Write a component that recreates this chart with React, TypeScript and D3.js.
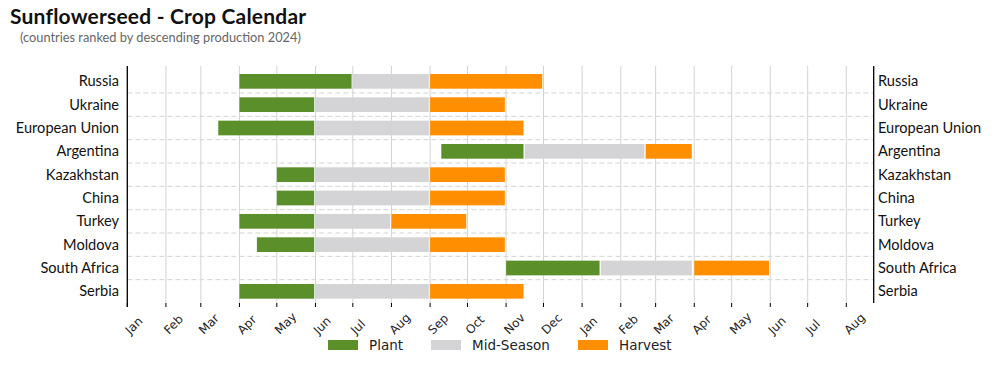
import React from 'react';
import * as d3 from 'd3';

const countries = ['Russia', 'Ukraine', 'European Union', 'Argentina', 'Kazakhstan', 'China', 'Turkey', 'Moldova', 'South Africa', 'Serbia'];

// [start, end] per country, two-year window
const plant = [
    ['2021-04-01', '2021-06-30'],
    ['2021-04-01', '2021-05-31'],
    ['2021-03-15', '2021-05-31'],
    ['2021-09-10', '2021-11-15'],
    ['2021-05-01', '2021-05-31'],
    ['2021-05-01', '2021-05-31'],
    ['2021-04-01', '2021-05-31'],
    ['2021-04-15', '2021-05-31'],
    ['2021-11-01', '2022-01-15'],
    ['2021-04-01', '2021-05-31'],
];
const midSeason = [
    ['2021-07-01', '2021-08-31'],
    ['2021-06-01', '2021-08-31'],
    ['2021-06-01', '2021-08-31'],
    ['2021-11-16', '2022-02-20'],
    ['2021-06-01', '2021-08-31'],
    ['2021-06-01', '2021-08-31'],
    ['2021-06-01', '2021-07-31'],
    ['2021-06-01', '2021-08-31'],
    ['2022-01-16', '2022-03-30'],
    ['2021-06-01', '2021-08-31'],
];
const harvest = [
    ['2021-09-01', '2021-11-30'],
    ['2021-09-01', '2021-10-31'],
    ['2021-09-01', '2021-11-15'],
    ['2022-02-21', '2022-03-30'],
    ['2021-09-01', '2021-10-31'],
    ['2021-09-01', '2021-10-31'],
    ['2021-08-01', '2021-09-30'],
    ['2021-09-01', '2021-10-31'],
    ['2022-04-01', '2022-05-31'],
    ['2021-09-01', '2021-11-15'],
];

const stages = [
    { name: 'Plant', color: '#5b8f2a', spans: plant },
    { name: 'Mid-Season', color: '#d4d3d5', spans: midSeason },
    { name: 'Harvest', color: '#ff8f00', spans: harvest },
];

const W = 994;
const H = 368;
const left = 127.3;
const right = 873.7;
const top = 66;
const bottom = 303;

const App = () => {
    const start = new Date(Date.UTC(2021, 0, 1));
    const end = new Date(start.getTime() + 599 * 864e5);
    const x = d3.scaleUtc().domain([start, end]).range([left, right]);
    const y = d3.scaleBand().domain(countries).range([69.67, bottom]).paddingInner(0.37).paddingOuter(0.185);
    const months = d3.utcMonth.range(start, end);
    const fmt = d3.utcFormat('%b');
    const parse = (s) => new Date(s + 'T00:00:00Z');
    const step = y.step();

    const labelFont = 'Lato, "Open Sans", sans-serif';

    return (
        <svg width={W} height={H} style={{ position: 'absolute', left: 0, top: 0 }}>
            <rect width={W} height={H} fill="#fff" />
            <text x={10} y={24} fontFamily={labelFont} fontWeight="bold" fontSize={21} letterSpacing={0.2} fill="#111">Sunflowerseed - Crop Calendar</text>
            <text x={20} y={41.5} fontFamily={labelFont} fontSize={12.8} fill="#666">(countries ranked by descending production 2024)</text>

            {/* vertical month grid */}
            {months.map((m, i) => (
                <line key={'g' + i} x1={x(m)} x2={x(m)} y1={top} y2={bottom} stroke="#d3d3d3" strokeWidth={1} />
            ))}
            {/* dashed row separators */}
            {countries.slice(1).map((c, i) => {
                const yy = 69.67 + (i + 1) * step;
                return <line key={'h' + i} x1={left} x2={right} y1={yy} y2={yy} stroke="#d3d3d3" strokeWidth={1} strokeDasharray="5,3" />;
            })}

            {/* bars */}
            {stages.map((s) =>
                s.spans.map((sp, i) => {
                    const x0 = x(parse(sp[0]));
                    const x1 = x(parse(sp[1]));
                    return <rect key={s.name + i} x={x0} y={y(countries[i])} width={x1 - x0} height={y.bandwidth()} fill={s.color} />;
                })
            )}

            {/* axes */}
            <line x1={left} x2={left} y1={top} y2={bottom + 4} stroke="#000" strokeWidth={1.3} />
            <line x1={right} x2={right} y1={top} y2={bottom} stroke="#000" strokeWidth={1.3} />
            {months.map((m, i) => (
                <g key={'t' + i}>
                    <line x1={x(m)} x2={x(m)} y1={bottom} y2={bottom + 4} stroke="#000" strokeWidth={1} />
                    <text
                        transform={`translate(${x(m) + 3},${335}) rotate(-45)`}
                        fontFamily="DejaVu Sans, sans-serif"
                        fontSize={12}
                        fill="#222"
                    >
                        {fmt(m)}
                    </text>
                </g>
            ))}

            {countries.map((c) => (
                <g key={'l' + c}>
                    <text x={119} y={y(c) + y.bandwidth() / 2} dy="0.35em" textAnchor="end" fontFamily={labelFont} fontSize={14.6} fill="#111">{c}</text>
                    <text x={878} y={y(c) + y.bandwidth() / 2} dy="0.35em" fontFamily={labelFont} fontSize={14.6} fill="#111">{c}</text>
                </g>
            ))}

            {/* legend */}
            {stages.map((s, i) => {
                const lx = [328, 431, 578][i];
                return (
                    <g key={'lg' + s.name}>
                        <rect x={lx} y={340} width={30} height={10} fill={s.color} />
                        <text x={lx + 41} y={350} fontFamily="DejaVu Sans, sans-serif" fontSize={13.5} fill="#222">{s.name}</text>
                    </g>
                );
            })}
        </svg>
    );
};

export default App;
